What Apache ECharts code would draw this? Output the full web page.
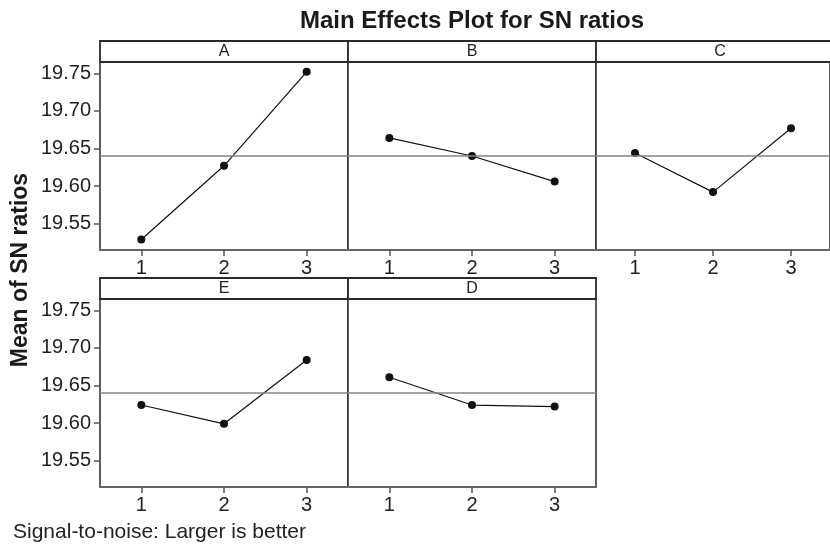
<!DOCTYPE html>
<html>
<head>
<meta charset="utf-8">
<script src="https://cdn.jsdelivr.net/npm/echarts@6/dist/echarts.min.js"></script>
<style>html,body{margin:0;padding:0;background:#fff;}#chart{width:830px;height:544px;}</style>
</head>
<body>
<div id="chart"></div>
<script>
const factors = ['A', 'B', 'C', 'E', 'D'];
const levels = ['1', '2', '3'];
const snA = [19.529, 19.627, 19.752];
const snB = [19.664, 19.640, 19.606];
const snC = [19.644, 19.592, 19.677];
const snE = [19.624, 19.599, 19.684];
const snD = [19.661, 19.624, 19.622];
const overallMean = 19.636;
const yTicks = [19.55, 19.60, 19.65, 19.70, 19.75];
const titleText = 'Main Effects Plot for SN ratios';
const yLabelText = 'Mean of SN ratios';
const noteText = 'Signal-to-noise: Larger is better';

const seriesData = [snA, snB, snC, snE, snD];
const FONT = 'Liberation Sans, Arial, Helvetica, sans-serif';
const yMin = 19.515, yMax = 19.765;
// layout
const panelW = 248, plotH = 188, stripH = 21;
const panels = [
  {left: 100, top: 62, yLabels: true},
  {left: 348, top: 62, yLabels: false},
  {left: 596, top: 62, yLabels: false},
  {left: 100, top: 299, yLabels: true},
  {left: 348, top: 299, yLabels: false}
];

const grid = [], xAxis = [], yAxis = [], series = [], graphic = [];
panels.forEach((p, i) => {
  grid.push({left: p.left, top: p.top, width: panelW, height: plotH, show: true,
    borderColor: '#2a2a2a', borderWidth: 1.5, backgroundColor: '#fff', containLabel: false});
  xAxis.push({type: 'category', gridIndex: i, data: levels, boundaryGap: true,
    axisLine: {show: true, lineStyle: {color: '#666', width: 2}},
    axisTick: {show: true, alignWithLabel: true, length: 6, lineStyle: {color: '#555', width: 1.5}},
    axisLabel: {show: true, fontSize: 20, color: '#222', fontFamily: FONT, margin: 8},
    splitLine: {show: false}});
  yAxis.push({type: 'value', gridIndex: i, min: yMin, max: yMax,
    axisLine: {show: false},
    axisTick: {show: p.yLabels, length: 6, customValues: yTicks, lineStyle: {color: '#555', width: 1.5}},
    axisLabel: {show: p.yLabels, customValues: yTicks, fontSize: 20, color: '#222', fontFamily: FONT, margin: 9,
      formatter: v => Number(v).toFixed(2)},
    splitLine: {show: false}});
  series.push({type: 'line', xAxisIndex: i, yAxisIndex: i, data: seriesData[i],
    symbol: 'circle', symbolSize: 8, showSymbol: true,
    lineStyle: {color: '#111', width: 1.2}, itemStyle: {color: '#111'},
    z: 3,
    markLine: {silent: true, symbol: 'none', animation: false, label: {show: false},
      lineStyle: {color: '#858585', width: 1.5, type: 'solid'},
      data: [{yAxis: overallMean}]}});
  graphic.push({type: 'rect', shape: {x: p.left, y: p.top - stripH, width: panelW, height: stripH},
    style: {fill: '#fff', stroke: '#2a2a2a', lineWidth: 1.8}, z: 10});
  graphic.push({type: 'text', x: p.left + panelW / 2, y: p.top - stripH / 2 + 0.5,
    style: {text: factors[i], font: '16px ' + FONT, fill: '#222', textAlign: 'center', textVerticalAlign: 'middle',
      align: 'center', verticalAlign: 'middle'}, z: 11});
});
graphic.push({type: 'text', x: 472, y: 21,
  style: {text: titleText, font: 'bold 24px ' + FONT, fill: '#1a1a1a', textAlign: 'center', textVerticalAlign: 'middle',
    align: 'center', verticalAlign: 'middle'}});
graphic.push({type: 'text', x: 21, y: 270, rotation: Math.PI / 2,
  style: {text: yLabelText, font: 'bold 23px ' + FONT, fill: '#1a1a1a', textAlign: 'center', textVerticalAlign: 'middle',
    align: 'center', verticalAlign: 'middle'}});
graphic.push({type: 'text', x: 13, y: 532,
  style: {text: noteText, font: '21px ' + FONT, fill: '#222', textAlign: 'left', textVerticalAlign: 'middle',
    align: 'left', verticalAlign: 'middle'}});

const chart = echarts.init(document.getElementById('chart'), null, {renderer: 'canvas'});
chart.setOption({animation: false, backgroundColor: '#fff', grid, xAxis, yAxis, series, graphic});
</script>
</body>
</html>
